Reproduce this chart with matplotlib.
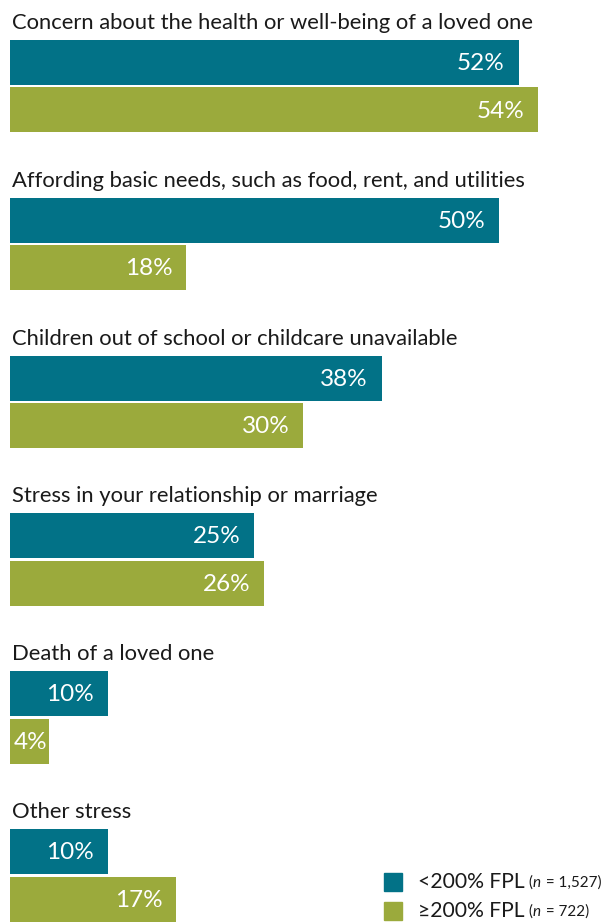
import matplotlib.pyplot as plt
from matplotlib.patches import Rectangle

# Sources of stress, share of respondents by income group
categories = [
    "Concern about the health or well-being of a loved one",
    "Affording basic needs, such as food, rent, and utilities",
    "Children out of school or childcare unavailable",
    "Stress in your relationship or marriage",
    "Death of a loved one",
    "Other stress",
]
low_income = [52, 50, 38, 25, 10, 10]
high_income = [54, 18, 30, 26, 4, 17]
series_names = ["<200% FPL", "\u2265200% FPL"]
series_n = ["1,527", "722"]

BLUE = "#027287"
GREEN = "#9baa3c"
FONT = "Lato"

W, H = 610, 922
fig = plt.figure(figsize=(W / 100, H / 100), dpi=100)
# axes spans from the bar baseline to the right edge; y is in pixel rows
ax = fig.add_axes([10 / W, 0, 1 - 10 / W, 1])
px_per_pct = 9.78
ax.set_xlim(0, (W - 10) / px_per_pct)
ax.set_ylim(H, 0)
ax.axis("off")

pitch = 157.8
bar_h = 45
for i, cat in enumerate(categories):
    top = 40 + i * pitch
    ax.text(0.2, top - 7, cat, fontsize=15.8, family=FONT, color="#1a1a1a",
            va="bottom", ha="left")
    for j, (vals, col) in enumerate([(low_income, BLUE), (high_income, GREEN)]):
        y = top + bar_h / 2 + j * (bar_h + 2.5)
        v = vals[i]
        ax.barh(y, v, height=bar_h, color=col, left=0)
        if v < 6:
            ax.text(0.4, y + 1, f"{v}%", color="white", fontsize=17.5,
                    family=FONT, ha="left", va="center")
        else:
            ax.text(v - 1.4, y + 1, f"{v}%", color="white", fontsize=17.5,
                    family=FONT, ha="right", va="center")

# legend drawn by hand so the sample size can be smaller and italic
renderer = fig.canvas.get_renderer()
for k, (name, n, col) in enumerate(zip(series_names, series_n, [BLUE, GREEN])):
    yc = 882 + k * 29
    fig.patches.append(Rectangle((384 / W, 1 - (yc + 9) / H), 18 / W, 18 / H,
                                 transform=fig.transFigure, color=col))
    t = fig.text(418 / W, 1 - yc / H, name, fontsize=15.2, family=FONT,
                 color="#1a1a1a", va="center", ha="left")
    x = t.get_window_extent(renderer).x1 + 4
    for part, style in [("(", "normal"), ("n", "italic"), (f" = {n})", "normal")]:
        t2 = fig.text(x / W, 1 - (yc + 1) / H, part, fontsize=11, family=FONT,
                      style=style, color="#1a1a1a", va="center", ha="left")
        x = t2.get_window_extent(renderer).x1 + (1 if part == "n" else 0)

fig.savefig("out.png", dpi=100)
